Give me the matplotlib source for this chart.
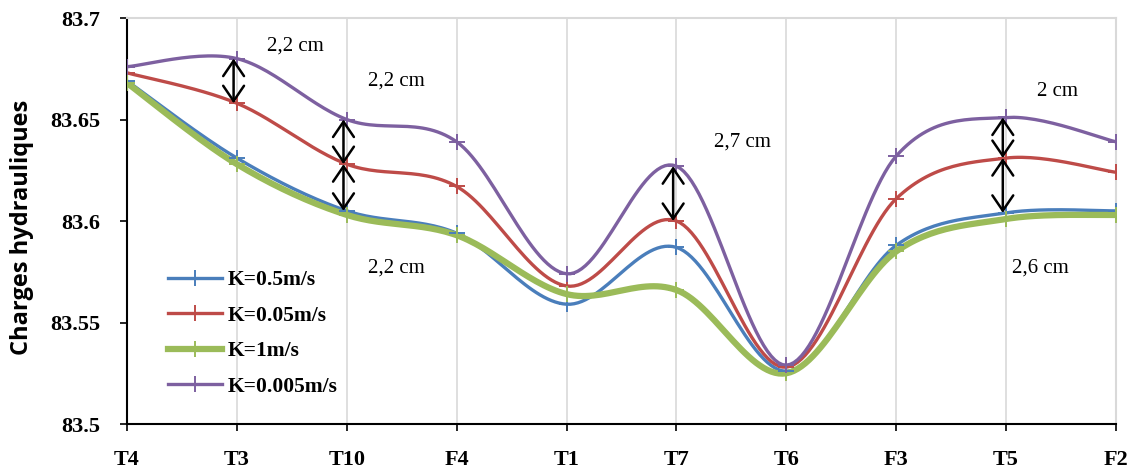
import numpy as np
import matplotlib
matplotlib.use("Agg")
import matplotlib.pyplot as plt
from matplotlib.lines import Line2D

categories = ["T4", "T3", "T10", "F4", "T1", "T7", "T6", "F3", "T5", "F2"]
k_05 = [83.669, 83.631, 83.605, 83.594, 83.559, 83.587, 83.526, 83.588, 83.604, 83.605]
k_005 = [83.673, 83.658, 83.628, 83.617, 83.568, 83.600, 83.528, 83.611, 83.631, 83.624]
k_1 = [83.668, 83.628, 83.603, 83.593, 83.564, 83.566, 83.525, 83.585, 83.601, 83.603]
k_0005 = [83.676, 83.680, 83.650, 83.639, 83.574, 83.627, 83.529, 83.632, 83.651, 83.639]

series_names = ["K=0.5m/s", "K=0.05m/s", "K=1m/s", "K=0.005m/s"]
series_colors = ["#4A7EBB", "#BE4B48", "#9BBB59", "#7D60A0"]
series_widths = [2.4, 2.4, 4.5, 2.4]

yticks = [83.5, 83.55, 83.6, 83.65, 83.7]
ytick_labels = ["83.5", "83.55", "83.6", "83.65", "83.7"]

# annotations: (category index, upper series idx, lower series idx)
arrows = [(1, 3, 1), (2, 3, 1), (2, 1, 0), (5, 3, 1), (8, 3, 1), (8, 1, 0)]
labels = [("2,2 cm", 1.53, 83.686), ("2,2 cm", 2.45, 83.669), ("2,2 cm", 2.45, 83.577),
          ("2,7 cm", 5.6, 83.639), ("2 cm", 8.47, 83.664), ("2,6 cm", 8.31, 83.577)]


def smooth(xs, ys, n=30):
    xs = np.asarray(xs, float); ys = np.asarray(ys, float)
    P = np.column_stack([xs, ys])
    Pp = np.vstack([P[0], P, P[-1]])
    out = []
    for i in range(len(P) - 1):
        p0, p1, p2, p3 = Pp[i], Pp[i + 1], Pp[i + 2], Pp[i + 3]
        c1 = p1 + (p2 - p0) / 6.0
        c2 = p2 - (p3 - p1) / 6.0
        t = np.linspace(0, 1, n)[:, None]
        seg = ((1 - t) ** 3) * p1 + 3 * ((1 - t) ** 2) * t * c1 + 3 * (1 - t) * t ** 2 * c2 + t ** 3 * p2
        out.append(seg if i == 0 else seg[1:])
    out = np.vstack(out)
    return out[:, 0], out[:, 1]


fig = plt.figure(figsize=(11.32, 4.73), dpi=100)
ax = fig.add_axes([127 / 1132, 1 - 424 / 473, (1116 - 127) / 1132, (424 - 18) / 473])

x = np.arange(len(categories))
data = [k_05, k_005, k_1, k_0005]
for vals, name, col, lw in zip(data, series_names, series_colors, series_widths):
    sx, sy = smooth(x, vals)
    ax.plot(sx, sy, color=col, lw=lw, solid_capstyle="round", zorder=3)
    ax.plot(x, vals, ls="none", marker="+", ms=11, mew=1.4, color=col, zorder=4)

handles = [Line2D([0], [0], color=c, lw=w, marker="+", ms=11, mew=1.4)
           for c, w in zip(series_colors, series_widths)]
leg = ax.legend(handles, series_names, loc="upper left", bbox_to_anchor=(0.033, 0.40),
                frameon=False, prop={"family": "Liberation Serif", "weight": "bold", "size": 15.5},
                handlelength=2.5, handletextpad=0.25, labelspacing=0.72, borderaxespad=0)

for ci, up, lo in arrows:
    ax.annotate("", xy=(x[ci] - 0.03, data[up][ci]), xytext=(x[ci] - 0.03, data[lo][ci]),
                arrowprops=dict(arrowstyle="<->,head_length=1.1,head_width=0.75", color="black", lw=1.8,
                                shrinkA=0, shrinkB=0), zorder=5)
for txt, tx, ty in labels:
    ax.text(tx, ty, txt, ha="center", va="center", family="Liberation Serif", fontsize=15)

ax.set_xlim(0, len(categories) - 1)
ax.set_ylim(83.5, 83.7)
ax.set_xticks(x)
ax.set_xticklabels(categories, family="Liberation Serif", weight="bold", fontsize=16)
ax.set_yticks(yticks)
ax.set_yticklabels(ytick_labels, family="Liberation Serif", weight="bold", fontsize=16)
ax.tick_params(axis="both", direction="out", length=5, width=1.2, color="black")
ax.tick_params(axis="x", pad=14)
ax.tick_params(axis="y", pad=14)
ax.grid(axis="x", color="#D9D9D9", lw=1.2, zorder=0)
for s in ["top", "right"]:
    ax.spines[s].set_color("#D9D9D9")
    ax.spines[s].set_linewidth(1.5)
for s in ["left", "bottom"]:
    ax.spines[s].set_color("black")
    ax.spines[s].set_linewidth(1.5)
ax.set_ylabel("Charges hydrauliques", family="Open Sans", weight="bold", fontsize=17)
ax.yaxis.set_label_coords(-0.094, 0.485)

fig.savefig("out.png", dpi=100)
